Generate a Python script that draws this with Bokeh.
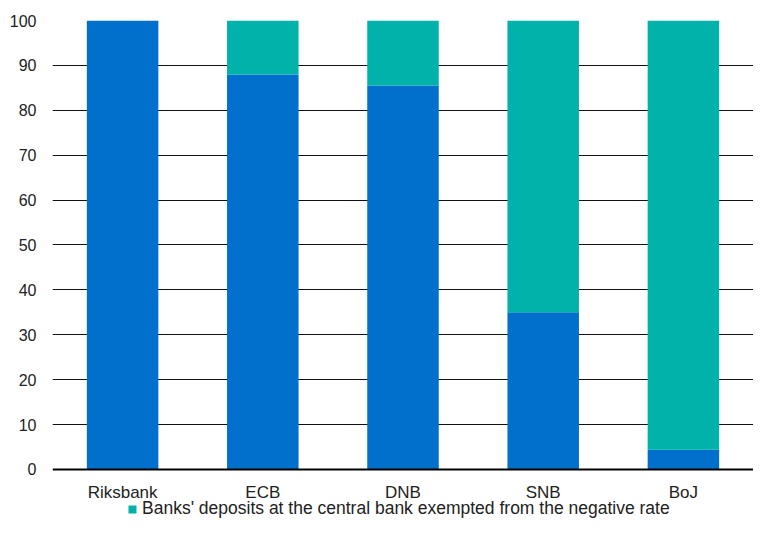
from bokeh.plotting import figure
from bokeh.models import Range1d, FixedTicker, Legend, LegendItem
from bokeh.embed import file_html
from bokeh.resources import INLINE

categories = ["Riksbank", "ECB", "DNB", "SNB", "BoJ"]
subject = [100, 88, 85.5, 35, 4.4]
exempted = [0, 12, 14.5, 65, 95.6]
y_ticks = [0, 10, 20, 30, 40, 50, 60, 70, 80, 90, 100]

BLUE = "#0070CC"
TEAL = "#00B2A9"
FONT = "Liberation Sans"

data = dict(cat=categories, subject=subject, exempted=exempted)

# frame extends below 0 so the axis labels and legend live inside it
p = figure(x_range=categories, y_range=Range1d(-11.14, 100), width=753, height=519,
           output_backend="svg", toolbar_location=None,
           min_border_left=52, min_border_right=0, min_border_top=20, min_border_bottom=0)
p.outline_line_color = None
p.background_fill_color = "white"
p.x_range.range_padding = 0

r = p.vbar_stack(["subject", "exempted"], x="cat", width=0.51, source=data,
                 color=[BLUE, TEAL], line_color=None)

p.yaxis.ticker = FixedTicker(ticks=y_ticks)
p.yaxis.axis_line_color = None
p.yaxis.major_tick_line_color = None
p.yaxis.minor_tick_line_color = None
p.yaxis.major_label_text_font = FONT
p.yaxis.major_label_text_font_size = "16px"
p.yaxis.major_label_text_color = "#222222"
p.yaxis.major_label_standoff = 10

p.xaxis.fixed_location = 0
p.xaxis.axis_line_color = "black"
p.xaxis.axis_line_width = 2
p.xaxis.major_tick_line_color = None
p.xaxis.minor_tick_line_color = None
p.xaxis.major_label_text_font = FONT
p.xaxis.major_label_text_font_size = "17px"
p.xaxis.major_label_text_color = "#222222"
p.xaxis.major_label_standoff = 8

p.xgrid.grid_line_color = None
p.ygrid.ticker = FixedTicker(ticks=y_ticks[1:])
p.ygrid.grid_line_color = "#111111"
p.ygrid.grid_line_width = 1.2
p.ygrid.level = "underlay"

legend = Legend(items=[LegendItem(label="Banks' deposits at the central bank exempted from the negative rate",
                                  renderers=[r[1]])],
                location=(75, 0), orientation="horizontal")
legend.label_text_font = FONT
legend.label_text_font_size = "17.5px"
legend.label_text_color = "#222222"
legend.glyph_width = 10
legend.glyph_height = 10
legend.label_standoff = 5
legend.label_height = 18
legend.padding = 0
legend.margin = 0
legend.border_line_color = None
legend.background_fill_alpha = 0
p.add_layout(legend, "center")

open("out.html", "w").write(file_html(p, INLINE))
